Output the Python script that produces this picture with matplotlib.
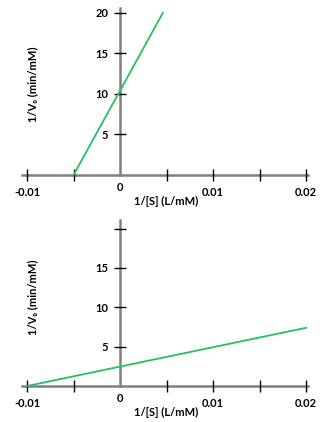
import matplotlib.pyplot as plt

plt.rcParams['font.family'] = ['Lato', 'DejaVu Sans']

# ==============================
# DATA
# ==============================
x_ticks = [-0.01, -0.005, 0.005, 0.01, 0.015, 0.02]
x_labeled = [-0.01, 0, 0.01, 0.02]
x_labels = ["-0.01", "0", "0.01", "0.02"]

# top plot: line and y ticks
top_x = [-0.005, 0.0046]
top_y = [0, 20]
top_yticks = [5, 10, 15, 20]
top_ylabels = ["5", "10", "15", "20"]

# bottom plot
bot_x = [-0.01, 0.02]
bot_y = [0, 7.4]
bot_yticks = [5, 10, 15, 20]
bot_ylabels = ["5", "10", "15", ""]

green = "#25c160"
gray = "#808080"
fs = 8

W, H = 322, 422
fig = plt.figure(figsize=(W / 100, H / 100), dpi=100)


def make_axes(bottom_px, top_px, ymax):
    left_px, right_px = 22.4, 308
    ax = fig.add_axes([left_px / W, (H - bottom_px) / H,
                       (right_px - left_px) / W, (bottom_px - top_px) / H])
    ax.set_xlim(-0.0105, 0.0202)
    ax.set_ylim(0, ymax)
    ax.patch.set_alpha(0)
    for s in ["top", "right"]:
        ax.spines[s].set_visible(False)
    ax.spines["left"].set_position(("data", 0))
    for s in ["left", "bottom"]:
        ax.spines[s].set_color(gray)
        ax.spines[s].set_linewidth(1.8)
        ax.spines[s].set_zorder(1)

    # x ticks: marks at every 0.005, labels only at some
    ax.set_xticks(x_ticks)
    ax.set_xticklabels([])
    ax.tick_params(axis="x", direction="inout", length=9, width=1,
                   color="black")
    for v, lab in zip(x_labeled, x_labels):
        dy = -0.9 if v == 0 else -1.5
        ax.text(v, dy, lab, ha="center", va="top", fontsize=fs,
                fontweight="bold", transform=ax.transData)
    ax.tick_params(axis="y", direction="inout", length=9, width=1,
                   color="black", pad=4, labelsize=fs)
    return ax


# ==============================
# TOP PLOT
# ==============================
ax1 = make_axes(175, 8, 20.6)
ax1.set_yticks(top_yticks)
ax1.set_yticklabels(top_ylabels, fontweight="bold")
ax1.plot(top_x, top_y, color=green, lw=1.3, clip_on=False, zorder=3)

# ==============================
# BOTTOM PLOT
# ==============================
ax2 = make_axes(386, 220, 21.1)
ax2.set_yticks(bot_yticks)
ax2.set_yticklabels(bot_ylabels, fontweight="bold")
ax2.plot(bot_x, bot_y, color=green, lw=1.3, clip_on=False, zorder=3)

# axis titles
for yc in [84, 297]:
    fig.text(33 / W, 1 - yc / H, "1/V\u2080 (min/mM)", rotation=90,
             ha="center", va="center", fontsize=fs, fontweight="bold")
for yc in [201, 412]:
    fig.text(166 / W, 1 - yc / H, "1/[S] (L/mM)", ha="center",
             va="center", fontsize=fs, fontweight="bold")

fig.savefig("out.png", dpi=100)
